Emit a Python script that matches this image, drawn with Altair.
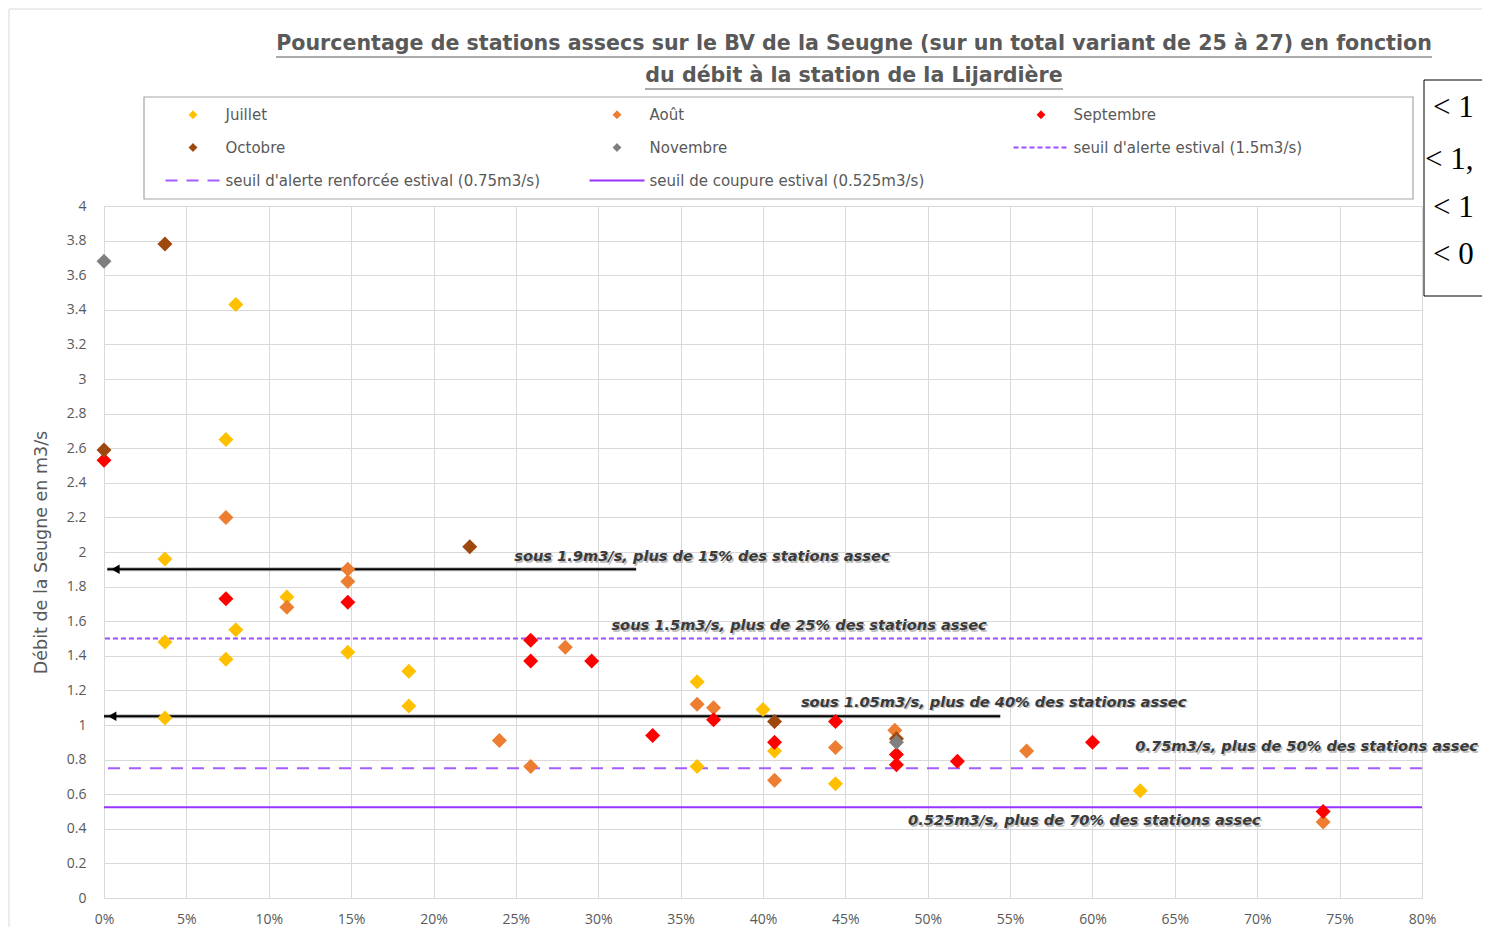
import altair as alt
import pandas as pd

# ---------------- data ----------------
months = ["Juillet", "Août", "Septembre", "Octobre", "Novembre"]
thresholds = [
    "seuil d'alerte estival (1.5m3/s)",
    "seuil d'alerte renforcée estival (0.75m3/s)",
    "seuil de coupure estival (0.525m3/s)",
]
series_names = months + thresholds
threshold_values = [1.5, 0.75, 0.525]

juillet_x = [7.4, 8.0, 3.7, 3.7, 3.7, 7.4, 8.0, 11.1, 18.5, 18.5, 14.8, 36.0, 36.0, 40.0, 40.7, 44.4, 62.9]
juillet_y = [2.65, 3.43, 1.96, 1.48, 1.04, 1.38, 1.55, 1.74, 1.31, 1.11, 1.42, 1.25, 0.76, 1.09, 0.85, 0.66, 0.62]
aout_x = [7.4, 11.1, 14.8, 14.8, 24.0, 25.9, 28.0, 36.0, 37.0, 40.7, 44.4, 48.0, 56.0, 74.0]
aout_y = [2.20, 1.68, 1.90, 1.83, 0.91, 0.76, 1.45, 1.12, 1.10, 0.68, 0.87, 0.97, 0.85, 0.44]
sept_x = [0.0, 7.4, 14.8, 25.9, 25.9, 29.6, 33.3, 37.0, 40.7, 44.4, 48.1, 48.1, 51.8, 60.0, 74.0]
sept_y = [2.53, 1.73, 1.71, 1.49, 1.37, 1.37, 0.94, 1.03, 0.90, 1.02, 0.83, 0.77, 0.79, 0.90, 0.50]
oct_x = [3.7, 0.0, 22.2, 40.7, 48.1]
oct_y = [3.78, 2.59, 2.03, 1.02, 0.92]
nov_x = [0.0, 48.1]
nov_y = [3.68, 0.90]

x_ticks = [0, 0.05, 0.10, 0.15, 0.20, 0.25, 0.30, 0.35, 0.40, 0.45, 0.50, 0.55, 0.60, 0.65, 0.70, 0.75, 0.80]
y_ticks = [0, 0.2, 0.4, 0.6, 0.8, 1, 1.2, 1.4, 1.6, 1.8, 2, 2.2, 2.4, 2.6, 2.8, 3, 3.2, 3.4, 3.6, 3.8, 4]

annot_x = [24.9, 30.8, 42.3, 62.6, 48.8]
annot_y = [1.97, 1.57, 1.13, 0.87, 0.445]
annot_text = [
    "sous 1.9m3/s, plus de 15% des stations assec",
    "sous 1.5m3/s, plus de 25% des stations assec",
    "sous 1.05m3/s, plus de 40% des stations assec",
    "0.75m3/s, plus de 50% des stations assec",
    "0.525m3/s, plus de 70% des stations assec",
]
arrow_start = [32.3, 54.4]
arrow_end = [0.2, 0.0]
arrow_y = [1.9, 1.05]

title_lines = [
    "Pourcentage de stations assecs sur le BV de la Seugne (sur un total variant de 25 à 27) en fonction",
    "du débit à la station de la Lijardière",
]
side_box_text = ["< 1", "< 1,", "< 1", "< 0"]

# ---------------- styles ----------------
colors = ["#FFC000", "#ED7D31", "#FF0000", "#9E480E", "#7F7F7F", "#9B4DFF", "#A45CFF", "#9933FF"]
DIAMOND = "M0,-0.6L0.6,0L0,0.6L-0.6,0Z"
LINE = "M-5.5,0L5.5,0"
shapes = [DIAMOND] * 5 + [LINE] * 3
dashes = [[1, 0]] * 5 + [[5, 3], [12, 9], [1, 0]]
TXT = "#595959"
FONT = "DejaVu Sans"
TICKFONT = "Open Sans"

rows = []
for name, xs, ys in [("Juillet", juillet_x, juillet_y), ("Août", aout_x, aout_y),
                     ("Septembre", sept_x, sept_y), ("Octobre", oct_x, oct_y),
                     ("Novembre", nov_x, nov_y)]:
    for xv, yv in zip(xs, ys):
        rows.append({"pct": xv / 100, "q": yv, "serie": name, "ord": months.index(name)})
df_pts = pd.DataFrame(rows)
df_thr = pd.DataFrame({"v": threshold_values, "serie": thresholds})
df_ann = pd.DataFrame({"pct": [v / 100 for v in annot_x], "q": annot_y, "txt": annot_text})
df_arr = pd.DataFrame({"x0": [v / 100 for v in arrow_start], "x1": [v / 100 for v in arrow_end],
                       "head": [v / 100 + 0.005 for v in arrow_end], "q": arrow_y})

leg = alt.Legend(
    orient="none", legendX=40, legendY=-109, columns=3, direction="horizontal", gridAlign="all",
    columnPadding=38, rowPadding=17, symbolSize=100, symbolStrokeWidth=2,
    symbolOffset=31.5, labelOffset=25, padding=10,
    labelFont=FONT, labelFontSize=15, labelColor=TXT, labelLimit=0,
    title=None,
)

xscale = alt.Scale(domain=[0, 0.8], nice=False, zero=False)
yscale = alt.Scale(domain=[0, 4], nice=False)
xaxis = alt.Axis(values=x_ticks, format=".0%", title=None, ticks=False, grid=True, labelFlush=False,
                 gridColor="#D9D9D9", domainColor="#D9D9D9", labelFont=TICKFONT, labelFontSize=14,
                 labelColor=TXT, labelPadding=14)
yaxis = alt.Axis(values=y_ticks, format=".1~f", title="Débit de la Seugne en m3/s", ticks=False,
                 grid=True, gridColor="#D9D9D9", domainColor="#D9D9D9", labelFont=TICKFONT,
                 labelFlush=False, labelFontSize=14, labelColor=TXT, labelPadding=18, titleFont=FONT,
                 titleFontSize=17.5, titleFontWeight="normal", titleColor=TXT, titlePadding=16)

X = alt.X("pct:Q", scale=xscale, axis=xaxis)
Y = alt.Y("q:Q", scale=yscale, axis=yaxis)

deco_src = pd.DataFrame({"k": [0]})

# legend frame (decoration, as wide as the original's)
legend_frame = alt.Chart(deco_src).mark_rect(fill=None, stroke="#A6A6A6", strokeWidth=1.2).encode(
    x=alt.value(40), x2=alt.value(1309), y=alt.value(-109), y2=alt.value(-7))

rules = alt.Chart(df_thr).mark_rule(strokeWidth=2).encode(
    y=alt.Y("v:Q", scale=yscale, axis=yaxis),
    stroke=alt.Stroke("serie:N", scale=alt.Scale(domain=series_names, range=colors), legend=leg),
    strokeDash=alt.StrokeDash("serie:N", scale=alt.Scale(domain=series_names, range=dashes), legend=leg),
)

arrow_shadow = alt.Chart(df_arr).mark_rule(color="#9a9a9a", strokeWidth=4, opacity=0.7).encode(
    x=alt.X("x0:Q", scale=xscale, axis=xaxis), x2="x1:Q", y=alt.Y("q:Q", scale=yscale, axis=yaxis))
arrow_line = alt.Chart(df_arr).mark_rule(color="#000000", strokeWidth=2).encode(
    x=alt.X("x0:Q", scale=xscale, axis=xaxis), x2="x1:Q", y=alt.Y("q:Q", scale=yscale, axis=yaxis))
arrow_head = alt.Chart(df_arr).mark_point(shape="triangle-left", filled=True, size=90,
                                          color="#000000", opacity=1).encode(
    x=alt.X("head:Q", scale=xscale, axis=xaxis), y=alt.Y("q:Q", scale=yscale, axis=yaxis))

points = alt.Chart(df_pts).mark_point(filled=True, size=625, opacity=1).encode(
    x=X, y=Y,
    fill=alt.Fill("serie:N", scale=alt.Scale(domain=series_names, range=colors), legend=leg),
    shape=alt.Shape("serie:N", scale=alt.Scale(domain=series_names, range=shapes), legend=leg),
    order=alt.Order("ord:Q"),
)

ann_shadow = alt.Chart(df_ann).mark_text(align="left", baseline="middle", font=FONT, fontSize=14.6,
                                         fontStyle="italic", fontWeight="bold", color="#BFBFBF",
                                         dx=1.5, dy=1.5).encode(x=X, y=Y, text="txt:N")
ann = alt.Chart(df_ann).mark_text(align="left", baseline="middle", font=FONT, fontSize=14.6,
                                  fontStyle="italic", fontWeight="bold", color="#3A3A3A").encode(
    x=X, y=Y, text="txt:N")

title1 = alt.Chart(deco_src).mark_text(align="center", baseline="middle", font=FONT, fontSize=20.6,
                                       fontWeight="bold", color=TXT).encode(
    x=alt.value(750), y=alt.value(-162), text=alt.value(title_lines[0]))
title2 = alt.Chart(deco_src).mark_text(align="center", baseline="middle", font=FONT, fontSize=20.6,
                                       fontWeight="bold", color=TXT).encode(
    x=alt.value(750), y=alt.value(-130), text=alt.value(title_lines[1]))
ul1 = alt.Chart(deco_src).mark_rule(color=TXT, strokeWidth=1.2).encode(
    x=alt.value(172), x2=alt.value(1328), y=alt.value(-149))
ul2 = alt.Chart(deco_src).mark_rule(color=TXT, strokeWidth=1.2).encode(
    x=alt.value(541), x2=alt.value(959), y=alt.value(-117))

side_box = alt.Chart(deco_src).mark_rect(fill="white", stroke="#000000", strokeWidth=1).encode(
    x=alt.value(1320), x2=alt.value(1420), y=alt.value(-126), y2=alt.value(90))
side_layers = []
for txt, px, py in zip(side_box_text, [1329, 1321, 1329, 1329], [-98, -46, 2, 49]):
    side_layers.append(alt.Chart(deco_src).mark_text(
        align="left", baseline="middle", font="Liberation Serif", fontSize=31, color="#000000").encode(
        x=alt.value(px), y=alt.value(py), text=alt.value(txt)))

frame = alt.Chart(deco_src).mark_rect(fill=None, stroke="#D9D9D9", strokeWidth=1).encode(
    x=alt.value(-95), x2=alt.value(1400), y=alt.value(-197), y2=alt.value(740))

chart = alt.layer(
    frame, legend_frame, rules, arrow_shadow, arrow_line, arrow_head, points, ann_shadow, ann,
    title1, title2, ul1, ul2, side_box, *side_layers,
).resolve_scale(
    x="shared", y="shared"
).properties(
    width=1318, height=692,
    autosize=alt.AutoSizeParams(type="none"),
    padding={"left": 96, "top": 198, "right": 60, "bottom": 29},
).configure_view(stroke=None).configure(background="white")

chart.save("out.html", embed_options={"renderer": "svg", "actions": False})
